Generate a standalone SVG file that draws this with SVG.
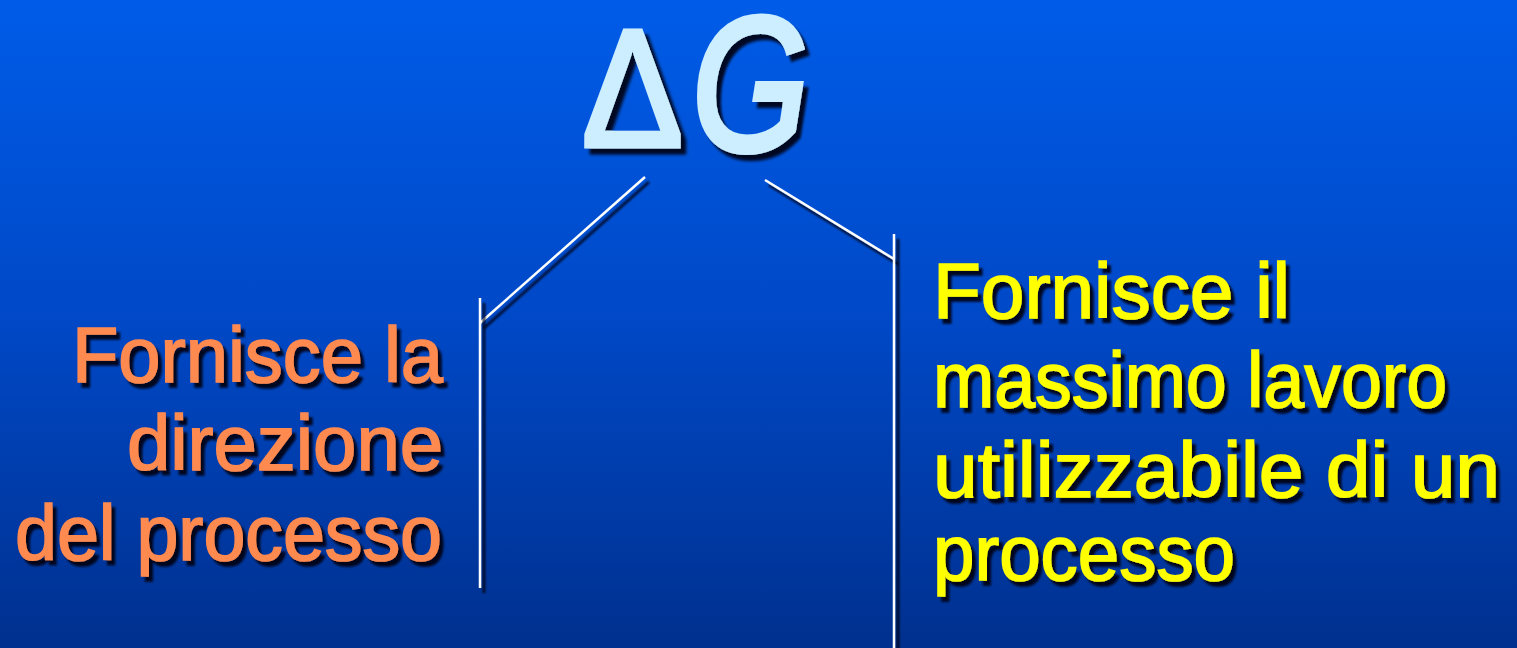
<svg xmlns="http://www.w3.org/2000/svg" width="1517" height="648" viewBox="0 0 1517 648">
<defs>
<linearGradient id="bg" x1="0" y1="0" x2="0" y2="1">
<stop offset="0" stop-color="#005CE8"/>
<stop offset="0.5" stop-color="#0048C6"/>
<stop offset="1" stop-color="#00308E"/>
</linearGradient>
<filter id="sh" filterUnits="userSpaceOnUse" x="0" y="0" width="1517" height="648">
<feDropShadow dx="4" dy="5" stdDeviation="1.2" flood-color="#000010" flood-opacity="0.9"/>
</filter>
<filter id="sh2" filterUnits="userSpaceOnUse" x="-2000" y="-2000" width="4000" height="4000">
<feDropShadow dx="6" dy="6" stdDeviation="1.5" flood-color="#000010" flood-opacity="0.9"/>
</filter>
</defs>
<style>
.t{font-family:"Liberation Sans","DejaVu Sans",sans-serif;font-size:78px;filter:url(#sh);stroke-width:1.6}
.or{fill:#FF8A50;stroke:#FF8A50}
.ye{fill:#FFFF00;stroke:#FFFF00}
.dg{font-family:"Liberation Sans","DejaVu Sans",sans-serif;fill:#CCEEFF;stroke:#CCEEFF;filter:url(#sh2)}
.ln{stroke:#FFFFFF;stroke-width:2.5;fill:none;filter:url(#sh)}
</style>
<rect x="0" y="0" width="1517" height="648" fill="url(#bg)"/>
<g id="title">
<text class="dg" transform="translate(582,146) scale(0.9,1)" font-size="168" stroke-width="5">Δ</text>
<text class="dg" transform="translate(692,150) scale(0.78,1)" font-size="192" font-style="italic" stroke-width="6">G</text>
</g>
<g id="connectors">
<line class="ln" x1="645" y1="177" x2="480" y2="323"/>
<line class="ln" x1="480" y1="298" x2="480" y2="588"/>
<line class="ln" x1="765" y1="180" x2="894" y2="259"/>
<line class="ln" x1="894" y1="234" x2="894" y2="652"/>
</g>
<g id="left">
<text class="t or" x="72" y="382" textLength="371" lengthAdjust="spacingAndGlyphs">Fornisce la</text>
<text class="t or" x="127" y="470" textLength="316" lengthAdjust="spacingAndGlyphs">direzione</text>
<text class="t or" x="15" y="560" textLength="427" lengthAdjust="spacingAndGlyphs">del processo</text>
</g>
<g id="right">
<text class="t ye" x="933" y="318" textLength="357" lengthAdjust="spacingAndGlyphs">Fornisce il</text>
<text class="t ye" x="933" y="407" textLength="514" lengthAdjust="spacingAndGlyphs">massimo lavoro</text>
<text class="t ye" x="933" y="497" textLength="567" lengthAdjust="spacingAndGlyphs">utilizzabile di un</text>
<text class="t ye" x="933" y="580" textLength="302" lengthAdjust="spacingAndGlyphs">processo</text>
</g>
</svg>
